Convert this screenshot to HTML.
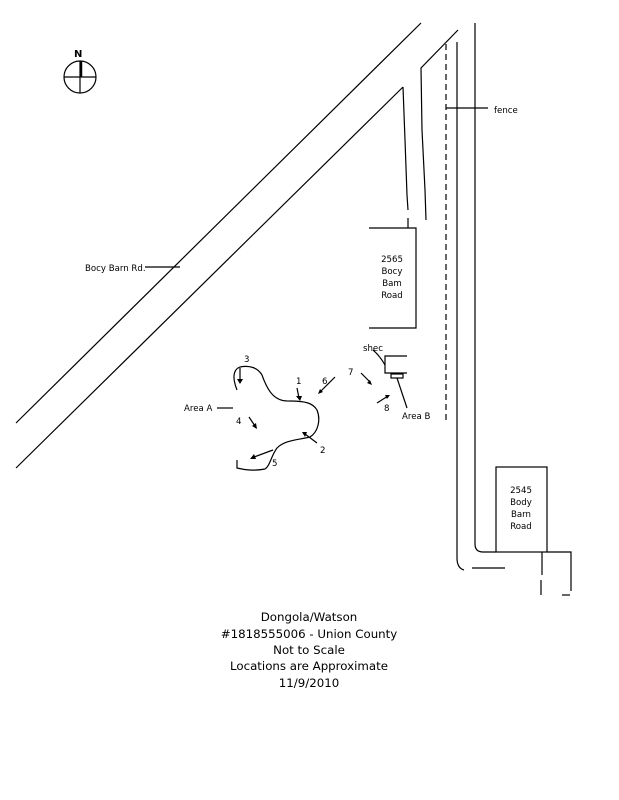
<!DOCTYPE html>
<html><head><style>
html,body{margin:0;padding:0;background:#fff;}
svg{display:block;}
text{font-family:"DejaVu Sans","Liberation Sans",sans-serif;fill:#000;}
</style></head><body>
<svg width="619" height="800" viewBox="0 0 619 800" xmlns="http://www.w3.org/2000/svg">
<g stroke="#000" stroke-width="1.2" fill="none">
<line x1="16" y1="423" x2="421" y2="23"/>
<line x1="16" y1="468" x2="403" y2="87"/>
<polyline points="403,87 405,140 407,195 408,210"/>
<polyline points="458,30 421,68 422,130 425,190 426,220"/>
<line x1="408" y1="218" x2="408" y2="228"/>
<path d="M457,42 V558 Q457,568 464,570"/>
<line x1="472" y1="568" x2="505" y2="568"/>
<path d="M475,23 V544 Q475,552 483,552 H496"/>
<line x1="446" y1="44" x2="446" y2="420" stroke-dasharray="6,4"/>
<line x1="446" y1="108" x2="488" y2="108"/>
<polyline points="369,228 416,228 416,328 369,328"/>
<rect x="496" y="467" width="51" height="85"/>
<polyline points="547,552 571,552 571,591"/>
<line x1="542" y1="552" x2="542" y2="575"/>
<line x1="541" y1="580" x2="541" y2="595"/>
<line x1="562" y1="595" x2="570" y2="595"/>
<polyline points="407,356 385,356 385,373 407,373"/>
<rect x="391" y="374" width="12" height="4"/>
<path d="M373,350 Q380,356 385,365"/>
<line x1="397" y1="378" x2="407" y2="408"/>
<circle cx="80" cy="77" r="16"/>
<line x1="64" y1="77" x2="96" y2="77"/>
<line x1="80" y1="61" x2="80" y2="93"/>
<line x1="81" y1="61" x2="81" y2="77" stroke-width="2.5"/>
<path d="M237,390 C233,380 232,370 240,367 C250,365 258,368 262,375 C268,392 275,402 290,401 C305,401 313,403 317,410 C321,420 318,432 310,437 C298,440 285,440 277,448 C271,456 270,466 265,469 C255,471 245,470 237,468 L237,460"/>
<line x1="217" y1="408" x2="233" y2="408"/>
<line x1="145" y1="267" x2="180" y2="267"/>
<line x1="240" y1="368" x2="240" y2="380"/>
<line x1="297" y1="388" x2="299" y2="398"/>
<line x1="335" y1="377" x2="320" y2="392"/>
<line x1="361" y1="373" x2="370" y2="382"/>
<line x1="377" y1="403" x2="388" y2="396"/>
<line x1="249" y1="417" x2="255" y2="426"/>
<line x1="317" y1="443" x2="305" y2="434"/>
<line x1="273" y1="450" x2="254" y2="457"/>
</g>
<g fill="#000">
<polygon points="237,379 243,379 240,384"/>
<polygon points="296,396 302,396 300,401"/>
<polygon points="318,394 320,389 323,392"/>
<polygon points="372,385 367,383 370,380"/>
<polygon points="390,395 385,395 387,399"/>
<polygon points="257,429 252,426 256,423"/>
<polygon points="302,432 307,432 305,437"/>
<polygon points="250,459 254,454 256,459"/>
</g>
<g font-size="8.6">
<text x="74" y="57" font-weight="bold" font-size="10">N</text>
<text x="494" y="113">fence</text>
<text x="85" y="271">Bocy Barn Rd.</text>
<text x="392" y="262" text-anchor="middle">2565</text>
<text x="392" y="274" text-anchor="middle">Bocy</text>
<text x="392" y="286" text-anchor="middle">Bam</text>
<text x="392" y="298" text-anchor="middle">Road</text>
<text x="521" y="493" text-anchor="middle">2545</text>
<text x="521" y="505" text-anchor="middle">Body</text>
<text x="521" y="517" text-anchor="middle">Barn</text>
<text x="521" y="529" text-anchor="middle">Road</text>
<text x="363" y="351">shec</text>
<text x="402" y="419">Area B</text>
<text x="184" y="411">Area A</text>
<text x="244" y="362">3</text>
<text x="296" y="384">1</text>
<text x="322" y="384">6</text>
<text x="348" y="375">7</text>
<text x="384" y="411">8</text>
<text x="236" y="424">4</text>
<text x="320" y="453">2</text>
<text x="272" y="466">5</text>
</g>
<g font-size="11.8" text-anchor="middle">
<text x="309" y="621">Dongola/Watson</text>
<text x="309" y="638">#1818555006 - Union County</text>
<text x="309" y="654">Not to Scale</text>
<text x="309" y="670">Locations are Approximate</text>
<text x="309" y="687">11/9/2010</text>
</g>
</svg>
</body></html>
